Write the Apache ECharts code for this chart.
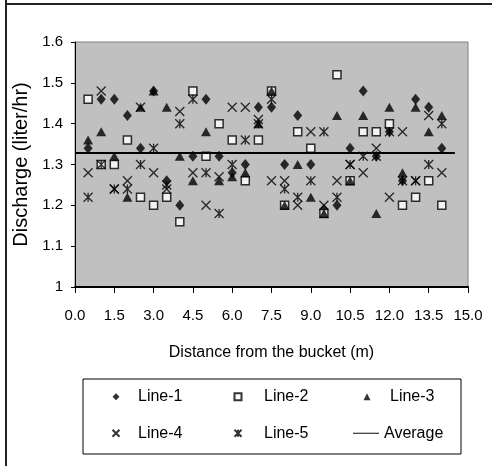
<!DOCTYPE html>
<html>
<head>
<meta charset="utf-8">
<script src="https://cdn.jsdelivr.net/npm/echarts@6/dist/echarts.min.js"></script>
<style>html,body{margin:0;padding:0;background:#fff;}#c{width:492px;height:466px;}</style>
</head>
<body>
<div id="c"></div>
<script>
const distances = [0.5,1.0,1.5,2.0,2.5,3.0,3.5,4.0,4.5,5.0,5.5,6.0,6.5,7.0,7.5,8.0,8.5,9.0,9.5,10.0,10.5,11.0,11.5,12.0,12.5,13.0,13.5,14.0];
const line1 = [1.34,1.46,1.46,1.42,1.34,1.48,1.26,1.20,1.32,1.46,1.32,1.28,1.30,1.44,1.44,1.30,1.42,1.30,1.19,1.20,1.34,1.48,1.32,1.38,1.26,1.46,1.44,1.34];
const line2 = [1.46,1.30,1.30,1.36,1.22,1.20,1.22,1.16,1.48,1.32,1.40,1.36,1.26,1.36,1.48,1.20,1.38,1.34,1.18,1.52,1.26,1.38,1.38,1.40,1.20,1.22,1.26,1.20];
const line3 = [1.36,1.38,1.32,1.22,1.44,1.48,1.44,1.32,1.26,1.38,1.26,1.27,1.28,1.40,1.48,1.20,1.30,1.22,1.18,1.42,1.26,1.42,1.18,1.44,1.28,1.44,1.38,1.42];
const line4 = [1.28,1.48,1.24,1.26,1.44,1.28,1.24,1.43,1.28,1.20,1.27,1.44,1.44,1.41,1.26,1.26,1.20,1.38,1.20,1.26,1.30,1.28,1.34,1.22,1.38,1.26,1.42,1.28];
const line5 = [1.22,1.30,1.24,1.24,1.30,1.34,1.25,1.40,1.46,1.28,1.18,1.30,1.36,1.40,1.46,1.24,1.22,1.26,1.38,1.22,1.30,1.32,1.32,1.38,1.26,1.26,1.30,1.40];
const averageX = [0, 14.5];
const averageY = [1.328, 1.328];
const seriesNames = ['Line-1','Line-2','Line-3','Line-4','Line-5','Average'];

const FONT = "'Liberation Sans',Arial,sans-serif";
const pairs = (ys) => distances.map((x, i) => [x, ys[i]]);
const X_PATH = 'path://M0,0L10,10M10,0L0,10';
const STAR_PATH = 'path://M0,0L10,10M10,0L0,10M5,0L5,10';

const chart = echarts.init(document.getElementById('c'), null, {renderer: 'canvas'});
const legendText = (pad) => ({fontFamily: FONT, fontSize: 16, color: '#000', lineHeight: 20, padding: [0,0,0,pad]});
chart.setOption({
  backgroundColor: '#fff',
  animation: false,
  grid: {left: 75, right: 24, top: 42, bottom: 179, show: true, backgroundColor: '#c0c0c0', borderColor: '#808080', borderWidth: 1},
  xAxis: {
    type: 'value', min: 0, max: 15, interval: 1.5,
    name: 'Distance from the bucket (m)', nameLocation: 'middle', nameGap: 58,
    nameTextStyle: {fontFamily: FONT, fontSize: 16, color: '#000'},
    axisLine: {show: true, onZero: false, lineStyle: {color: '#000', width: 2}},
    axisTick: {show: true, length: 6, lineStyle: {color: '#000', width: 1}},
    axisLabel: {margin: 21, fontFamily: FONT, fontSize: 15, color: '#000', formatter: v => v.toFixed(1)},
    splitLine: {show: false}
  },
  yAxis: {
    type: 'value', min: 1, max: 1.6, interval: 0.1,
    name: 'Discharge (liter/hr)', nameLocation: 'middle', nameGap: 38, nameRotate: 90,
    nameTextStyle: {fontFamily: FONT, fontSize: 20, color: '#000'},
    axisLine: {show: true, lineStyle: {color: '#000', width: 1}},
    axisTick: {show: true, length: 4, lineStyle: {color: '#000', width: 1}},
    axisLabel: {margin: 12, fontFamily: FONT, fontSize: 15, color: '#000', formatter: v => Math.abs(v - 1) < 1e-9 ? '1' : v.toFixed(1)},
    splitLine: {show: false}
  },
  graphic: [
    {type: 'line', shape: {x1: 6, y1: 0, x2: 6, y2: 466}, style: {stroke: '#222', lineWidth: 2}, z: 100},
    {type: 'line', shape: {x1: 6, y1: 4, x2: 492, y2: 4}, style: {stroke: '#222', lineWidth: 2}, z: 100},
    {type: 'rect', shape: {x: 83, y: 379, width: 378, height: 75}, style: {fill: '#fff', stroke: '#000', lineWidth: 1}, z: 0}
  ],
  legend: [
    {data: ['Line-1','Line-4'], orient: 'vertical', left: 111.5, top: 386.7, padding: 0, itemGap: 16.6, itemWidth: 7, itemHeight: 7, textStyle: legendText(13.5), z: 10},
    {data: ['Line-2','Line-5'], orient: 'vertical', left: 233.5, top: 386.7, padding: 0, itemGap: 16.6, itemWidth: 7, itemHeight: 7, textStyle: legendText(17.5), z: 10},
    {data: ['Line-3'], orient: 'vertical', left: 363.5, top: 386.7, padding: 0, itemWidth: 7, itemHeight: 7, textStyle: legendText(14.5), z: 10},
    {data: [{name: 'Average', icon: 'rect', itemStyle: {color: '#333'}}], orient: 'vertical', left: 353, top: 423.3, padding: 0, itemWidth: 26, itemHeight: 1.2, textStyle: legendText(0), z: 10}
  ],
  series: [
    {name: seriesNames[0], type: 'scatter', data: pairs(line1), symbol: 'diamond', symbolSize: [9, 11], itemStyle: {color: '#000'}},
    {name: seriesNames[1], type: 'scatter', data: pairs(line2), symbol: 'rect', symbolSize: 8, itemStyle: {color: '#fff', borderColor: '#000', borderWidth: 1.5}},
    {name: seriesNames[2], type: 'scatter', data: pairs(line3), symbol: 'triangle', symbolSize: [10, 9], itemStyle: {color: '#000'}},
    {name: seriesNames[3], type: 'scatter', data: pairs(line4), symbol: X_PATH, symbolSize: 9, itemStyle: {color: 'rgba(0,0,0,0)', borderColor: '#000', borderWidth: 1.3}},
    {name: seriesNames[4], type: 'scatter', data: pairs(line5), symbol: STAR_PATH, symbolSize: 9, itemStyle: {color: 'rgba(0,0,0,0)', borderColor: '#000', borderWidth: 1.3}},
    {name: seriesNames[5], type: 'line', data: averageX.map((x, i) => [x, averageY[i]]), symbol: 'none', lineStyle: {color: '#000', width: 2}, itemStyle: {color: '#000'}, z: 5}
  ]
});
</script>
</body>
</html>
